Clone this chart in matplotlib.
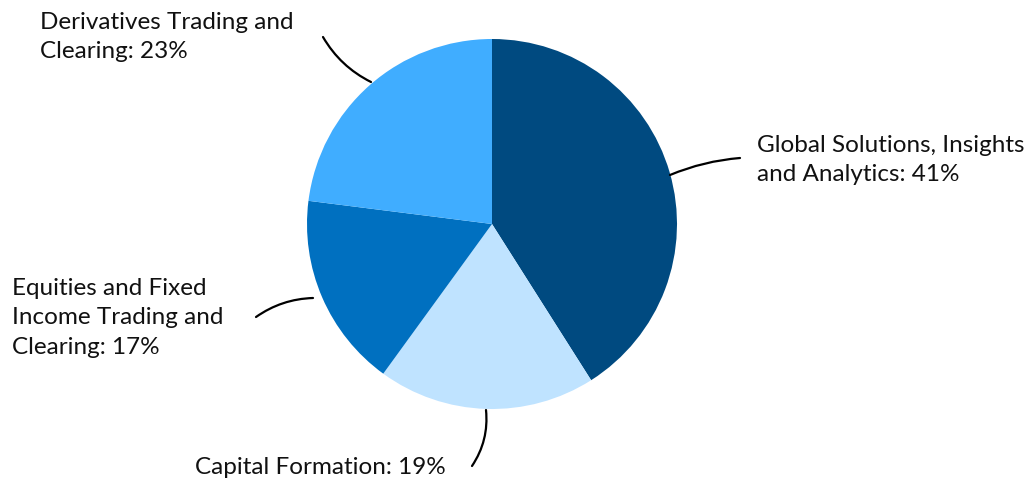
import matplotlib.pyplot as plt

labels = ['Global Solutions, Insights\nand Analytics: 41%',
          'Capital Formation: 19%',
          'Equities and Fixed\nIncome Trading and\nClearing: 17%',
          'Derivatives Trading and\nClearing: 23%']
shares = [41, 19, 17, 23]
colors = ['#004a80', '#bfe3ff', '#0070c0', '#40adff']

plt.rcParams['font.family'] = ['Lato', 'DejaVu Sans']

fig = plt.figure(figsize=(10.3, 4.84), dpi=100)
ax = fig.add_axes([0, 0, 1, 1])

# pie in pixel-like coordinates (y measured from bottom)
cx, cy, r = 492, 260, 185
ax.pie(shares, colors=colors, startangle=90, counterclock=False,
       center=(cx, cy), radius=r, frame=True,
       wedgeprops=dict(linewidth=0))
ax.set_xlim(0, 1030)
ax.set_ylim(0, 484)
ax.set_aspect('equal')
ax.axis('off')

# leader lines: (point on pie, end near label, curvature)
leaders = [((670, 309), (740, 326), 0.08),
           ((486, 74), (472, 18), 0.18),
           ((313, 186), (256, 167), -0.15),
           ((371, 402), (323, 447), 0.15)]
for (p0, p1, rad) in leaders:
    ax.annotate('', xy=p0, xytext=p1,
                arrowprops=dict(arrowstyle='-', color='black', lw=1.6,
                                connectionstyle=f'arc3,rad={rad}',
                                shrinkA=0, shrinkB=0))

text_pos = [(757, 324), (195, 16), (12, 166), (40, 447)]
for lab, (x, y) in zip(labels, text_pos):
    ax.text(x, y, lab, ha='left', va='center', fontsize=17.5,
            color='#111111', linespacing=1.48)

fig.savefig('out.png', dpi=100)
